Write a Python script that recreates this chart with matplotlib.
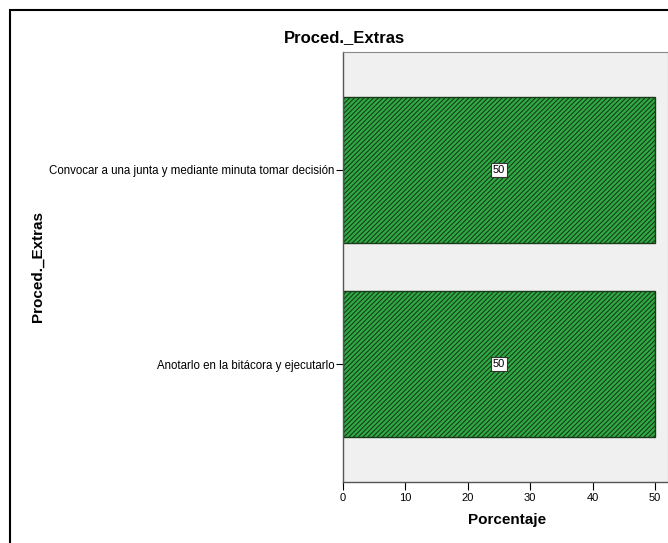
import matplotlib.pyplot as plt
from matplotlib.patches import Rectangle

categorias = ['Anotarlo en la bitácora y ejecutarlo',
              'Convocar a una junta y mediante minuta tomar decisión']
porcentajes = [50, 50]
ticks_x = [0, 10, 20, 30, 40, 50]

plt.rcParams['font.family'] = ['Liberation Sans', 'DejaVu Sans']
plt.rcParams['hatch.linewidth'] = 0.8
plt.rcParams['hatch.color'] = '#1a3a1a'

W, H = 668, 543
fig = plt.figure(figsize=(W / 100, H / 100), dpi=100)
fig.patch.set_facecolor('white')

# marco exterior
fig.patches.append(Rectangle((10 / W, -0.1), 1.2, 1 - 10 / H + 0.1,
                             transform=fig.transFigure, fill=False,
                             edgecolor='black', linewidth=1.5))

ax = fig.add_axes([343 / W, 1 - 482 / H, (W - 343) / W, (482 - 52) / H])
ax.set_facecolor('#f0f0f0')

pos = list(range(len(categorias)))
ax.barh(pos, porcentajes, height=0.75, color='#2eab44', edgecolor='#1a3a1a',
        hatch='/' * 7, linewidth=1.0)

for p, v in zip(pos, porcentajes):
    ax.text(v / 2, p, str(v), ha='center', va='center', fontsize=8,
            bbox=dict(boxstyle='square,pad=0.15', facecolor='white',
                      edgecolor='#333333', linewidth=0.8))

ax.set_xlim(0, 52.1)
ax.set_ylim(-0.608, 1.608)
ax.set_xticks(ticks_x)
ax.set_yticks(pos)
ax.set_yticklabels(categorias, fontsize=8.3)
ax.tick_params(axis='x', labelsize=8, length=6, width=0.8, pad=2)
ax.tick_params(axis='y', length=5, width=0.8, pad=1)

for s in ['top', 'right']:
    ax.spines[s].set_color('#888888')
    ax.spines[s].set_linewidth(0.8)
for s in ['left', 'bottom']:
    ax.spines[s].set_color('#555555')
    ax.spines[s].set_linewidth(1.0)

fig.text(507 / W, 1 - 520 / H, 'Porcentaje', ha='center', va='center',
         fontsize=11, fontweight='bold')
fig.text(38 / W, 1 - 267 / H, 'Proced._Extras', rotation=90, ha='center',
         va='center', fontsize=11, fontweight='bold')
fig.text(344 / W, 1 - 38 / H, 'Proced._Extras', ha='center', va='center',
         fontsize=12, fontweight='bold')

fig.savefig('out.png', dpi=100)
